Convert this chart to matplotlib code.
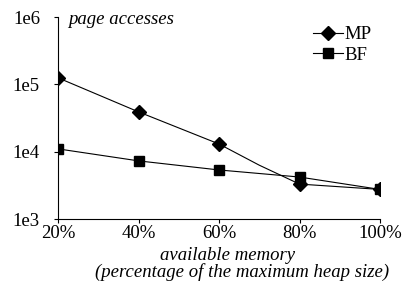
import matplotlib
matplotlib.use("Agg")
import matplotlib.pyplot as plt

# data
memory = [20, 40, 60, 80, 100]
memory_labels = ["20%", "40%", "60%", "80%", "100%"]
mp_x = [20, 40, 60, 70, 80, 100]
mp_accesses = [125000, 39000, 13000, 6300, 3300, 2750]
bf_accesses = [11000, 7300, 5350, 4200, 2750]
y_ticks = [1e3, 1e4, 1e5, 1e6]
y_labels = ["1e3", "1e4", "1e5", "1e6"]

plt.rcParams['font.family'] = ['Liberation Serif', 'DejaVu Serif']
fs = 13.5

fig = plt.figure(figsize=(4.08, 2.82), dpi=100)
ax = fig.add_axes([58 / 408, 1 - 219 / 282, (380 - 58) / 408, (219 - 17) / 282])

ax.plot(mp_x, mp_accesses, color='black', lw=0.8, marker='D', ms=7.5,
        markevery=[0, 1, 2, 4, 5], label='MP')
ax.plot(memory, bf_accesses, color='black', lw=0.8, marker='s', ms=7,
        label='BF')

ax.set_yscale('log')
ax.set_ylim(1e3, 1e6)
ax.set_xlim(20, 100)
ax.set_yticks(y_ticks)
ax.set_yticklabels(y_labels)
ax.minorticks_off()
ax.set_xticks(memory)
ax.set_xticklabels(memory_labels)
ax.tick_params(direction='out', length=3, width=0.8, labelsize=fs)
ax.tick_params(axis='y', pad=10)
ax.tick_params(axis='x', pad=1)

for s in ['top', 'right']:
    ax.spines[s].set_visible(False)
for s in ['left', 'bottom']:
    ax.spines[s].set_linewidth(0.8)

ax.text(68 / 408, 1 - 20 / 282, 'page accesses', transform=fig.transFigure,
        style='italic', fontsize=fs, va='center', ha='left')

ax.legend(loc='upper left', bbox_to_anchor=(313 / 408, 1 - 26 / 282),
          bbox_transform=fig.transFigure, frameon=False, fontsize=fs,
          handlelength=1.6, handletextpad=0.1, labelspacing=0.2,
          borderpad=0, borderaxespad=0)

fig.text(228 / 408, 1 - 256 / 282, 'available memory', style='italic',
         fontsize=fs, ha='center', va='center')
fig.text(242 / 408, 1 - 272 / 282, '(percentage of the maximum heap size)',
         style='italic', fontsize=fs, ha='center', va='center')

fig.savefig('out.png', dpi=100)
